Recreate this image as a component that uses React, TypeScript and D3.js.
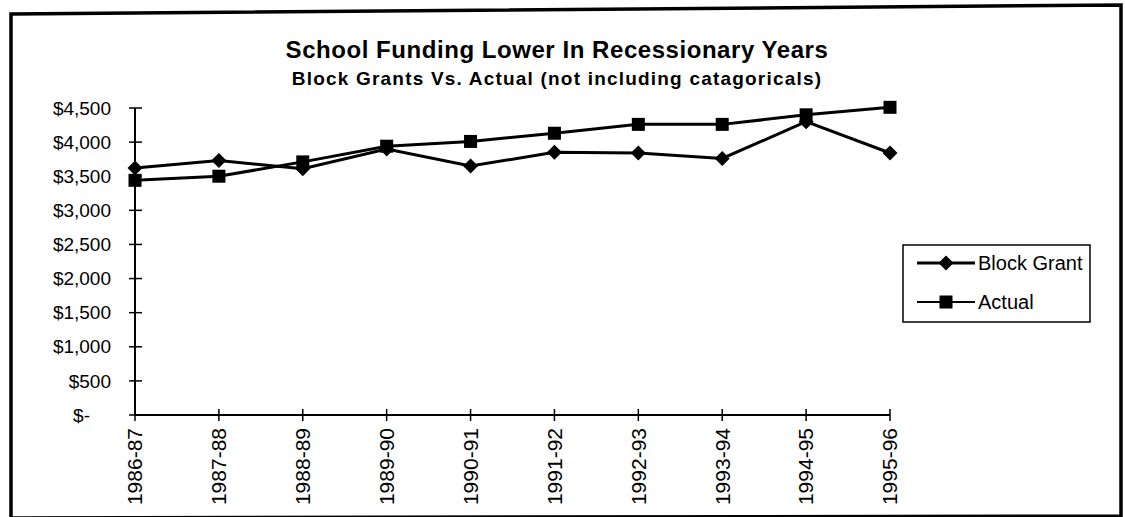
import React from "react";
import * as d3 from "d3";

// School funding per year: block grant vs. actual spending (dollars)
const years = [
  "1986-87", "1987-88", "1988-89", "1989-90", "1990-91",
  "1991-92", "1992-93", "1993-94", "1994-95", "1995-96",
];
const blockGrant = [3620, 3730, 3610, 3900, 3650, 3850, 3840, 3760, 4300, 3840];
const actual = [3440, 3500, 3710, 3940, 4010, 4130, 4260, 4260, 4400, 4510];
const yTicks = [0, 500, 1000, 1500, 2000, 2500, 3000, 3500, 4000, 4500];

const W = 1125;
const H = 517;
const FONT = "Arial, 'Liberation Sans', sans-serif";

const fmt = (v: number) => (v === 0 ? "$-" : "$" + d3.format(",")(v));

export default function App() {
  const x = d3.scalePoint<string>().domain(years).range([135, 890]);
  const y = d3.scaleLinear().domain([0, 4500]).range([415, 108]);

  const line = d3
    .line<number>()
    .x((_, i) => x(years[i]) as number)
    .y((d) => y(d));

  const diamond = (cx: number, cy: number, r: number) =>
    `M${cx},${cy - r}L${cx + r},${cy}L${cx},${cy + r}L${cx - r},${cy}Z`;

  return (
    <svg
      width={W}
      height={H}
      style={{ position: "absolute", left: 0, top: 0, background: "#fff" }}
      fontFamily={FONT}
    >
      <rect x={0} y={0} width={W} height={H} fill="#fff" />
      {/* outer frame */}
      <path
        d="M11,14 L1121,5 L1121,516 L11,518 Z"
        fill="none"
        stroke="#000"
        strokeWidth={3.5}
      />

      {/* titles */}
      <text x={557} y={58} textAnchor="middle" fontSize={24} fontWeight="bold" letterSpacing={0.55}>
        School Funding Lower In Recessionary Years
      </text>
      <text x={557} y={85} textAnchor="middle" fontSize={19} fontWeight="bold" letterSpacing={1.2}>
        Block Grants Vs. Actual (not including catagoricals)
      </text>

      {/* y axis */}
      <line x1={135} x2={135} y1={y(4500)} y2={y(0)} stroke="#000" strokeWidth={2} />
      {yTicks.map((t) => (
        <g key={t}>
          <line x1={129} x2={142} y1={y(t)} y2={y(t)} stroke="#000" strokeWidth={1.5} />
          <text
            x={t === 0 ? 90 : 111}
            y={y(t)}
            dy="0.35em"
            textAnchor="end"
            fontSize={19}
          >
            {fmt(t)}
          </text>
        </g>
      ))}

      {/* x axis */}
      <line x1={135} x2={x(years[years.length - 1])} y1={y(0)} y2={y(0)} stroke="#000" strokeWidth={2} />
      {years.map((yr) => (
        <g key={yr}>
          <line x1={x(yr)} x2={x(yr)} y1={y(0) - 6} y2={y(0) + 6} stroke="#000" strokeWidth={1.5} />
          <text
            transform={`translate(${x(yr)},428) rotate(-90)`}
            dy="0.35em"
            textAnchor="end"
            fontSize={21}
          >
            {yr}
          </text>
        </g>
      ))}

      {/* series */}
      <path d={line(actual) || ""} fill="none" stroke="#000" strokeWidth={3} />
      <path d={line(blockGrant) || ""} fill="none" stroke="#000" strokeWidth={3} />
      {blockGrant.map((v, i) => (
        <path key={"b" + i} d={diamond(x(years[i]) as number, y(v), 7.5)} fill="#000" />
      ))}
      {actual.map((v, i) => (
        <rect
          key={"a" + i}
          x={(x(years[i]) as number) - 6.5}
          y={y(v) - 6.5}
          width={13}
          height={13}
          fill="#000"
        />
      ))}

      {/* legend */}
      <rect x={903} y={245} width={187} height={77} fill="#fff" stroke="#000" strokeWidth={1.5} />
      <line x1={917} x2={975} y1={263} y2={263} stroke="#000" strokeWidth={3} />
      <path d={diamond(946, 263, 7.5)} fill="#000" />
      <text x={978} y={263} dy="0.35em" fontSize={20}>
        Block Grant
      </text>
      <line x1={917} x2={975} y1={302} y2={302} stroke="#000" strokeWidth={2} />
      <rect x={939.5} y={295.5} width={13} height={13} fill="#000" />
      <text x={978} y={302} dy="0.35em" fontSize={20}>
        Actual
      </text>
    </svg>
  );
}
